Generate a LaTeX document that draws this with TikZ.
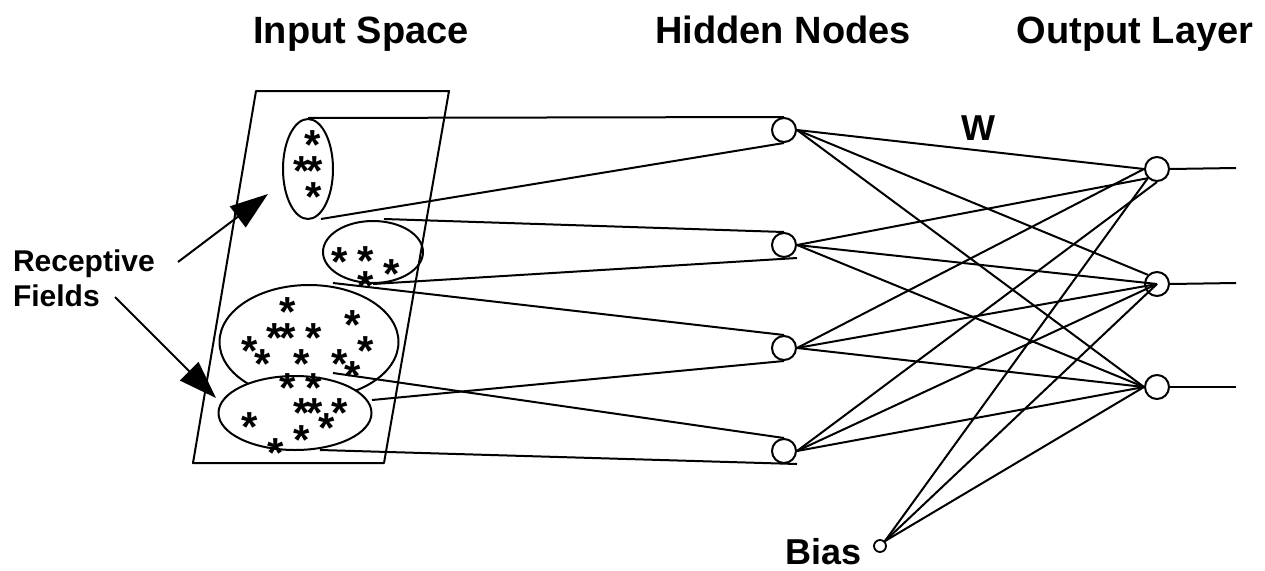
\documentclass[tikz,border=0pt]{standalone}
\usepackage{fontspec}
\setmainfont{Liberation Sans}
\usetikzlibrary{shapes.geometric,arrows.meta,calc}

\begin{document}
\begin{tikzpicture}[x=1pt,y=-1pt,
  line width=2pt, line join=round,
  unit/.style={circle,draw,minimum size=24pt,inner sep=0pt},
  biasunit/.style={circle,draw,minimum size=12pt,inner sep=0pt,line width=1.8pt},
  field/.style={ellipse,draw,inner sep=0pt},
  pt/.style={inner sep=0pt,font=\bfseries\fontsize{42}{42}\selectfont},
  title/.style={anchor=base,inner sep=0pt,font=\bfseries\fontsize{38}{44}\selectfont},
  pointer/.style={-{Triangle[length=38pt,width=26pt]}},
]
\useasboundingbox (0,0) rectangle (1265,570);

% headings
\node[title] (tin)  at (361,43) {Input Space};
\node[title] (thid) at (783,43) {Hidden Nodes};
\node[title] (tout) at (1135,43) {Output Layer};
\node[title,font=\bfseries\fontsize{36}{40}\selectfont] (tw) at (978,140) {W};

% receptive-field label and pointers
\node[anchor=north west,inner sep=0pt,align=left,
      font=\bfseries\fontsize{30}{35}\selectfont] (rf) at (12,249) {Receptive\\Fields};
\coordinate (rfa) at (178,262);
\coordinate (rfb) at (115,297);
\coordinate (tipa) at (268,194);
\coordinate (tipb) at (216,398);

% input space
\draw (256,91) -- (449,91) -- (384,463) -- (193,463) -- cycle;
\node[field,minimum width=50pt,minimum height=100pt] (e1) at (308,169) {};
\node[field,minimum width=100pt,minimum height=62pt] (e2) at (373,252) {};
\node[field,minimum width=179pt,minimum height=114pt] (e3) at (309,342) {};
\node[field,fill=white,minimum width=153pt,minimum height=74pt] (e4) at (295,413) {};

% sample points
\foreach \x/\y in {313/135, 302/161, 315/161, 314/187,
                   340/252, 366/251, 392/264, 366/276,
                   288/302, 353/315, 275/328, 288/328, 314/328, 250/341, 366/341,
                   263/354, 302/354, 340/354, 353/366,
                   288/378, 314/378, 302/403, 315/403, 340/403, 327/418,
                   250/417, 302/430, 276/443}
  \node[pt] at (\x,\y) {\raisebox{-0.58em}[0pt][0pt]{*}};

% hidden units
\node[unit] (h1) at (784,130) {};
\node[unit] (h2) at (784,245) {};
\node[unit] (h3) at (784,348) {};
\node[unit] (h4) at (784,451) {};

% output units
\node[unit] (o1) at (1157,169) {};
\node[unit] (o2) at (1157,284) {};
\node[unit] (o3) at (1157,387) {};
\coordinate (y1) at (1236,168);
\coordinate (y2) at (1236,283);
\coordinate (y3) at (1236,387);

% bias
\node[biasunit] (b) at (880,546) {};
\node[anchor=base east,inner sep=0pt,font=\bfseries\fontsize{36}{40}\selectfont] (tb) at (863,564) {Bias};

% field outlines to hidden units
\coordinate (e1b) at (321,219);
\coordinate (e2t) at (384,219);
\coordinate (e3t) at (333,283);
\coordinate (e3b) at (372,400);
\coordinate (e4t) at (333,373);
\coordinate (e4b) at (320,450);
\draw (e1.north) -- (h1.north);
\draw (e1b) -- (h1.south);
\draw (e2t) -- (h2.north);
\draw (e2.south) -- ($(h2.south)+(13,0)$);
\draw (e3t) -- (h3.north);
\draw (e3b) -- (h3.south);
\draw (e4t) -- (h4.north);
\draw (e4b) -- ($(h4.south)+(13,0)$);

% weights W
\draw (h1.east) -- (o1.west);
\draw (h1.east) -- (o2.north west);
\draw (h1.east) -- (o3.west);
\draw (h2.east) -- (o1.south west);
\draw (h2.east) -- (o2.center);
\draw (h2.east) -- (o3.west);
\draw (h3.east) -- (o1.west);
\draw (h3.east) -- (o2.center);
\draw (h3.east) -- (o3.west);
\draw (h4.east) -- (o1.south);
\draw (h4.east) -- (o2.center);
\draw (h4.east) -- (o3.west);
\draw (b.north east) -- (o1.south west);
\draw (b.north east) -- (o2.center);
\draw (b.north east) -- (o3.west);

% outputs
\draw (o1.east) -- (y1);
\draw (o2.east) -- (y2);
\draw (o3.east) -- (y3);

% pointers
\draw[pointer] (rfa) -- (tipa);
\draw[pointer] (rfb) -- (tipb);
\end{tikzpicture}
\end{document}
